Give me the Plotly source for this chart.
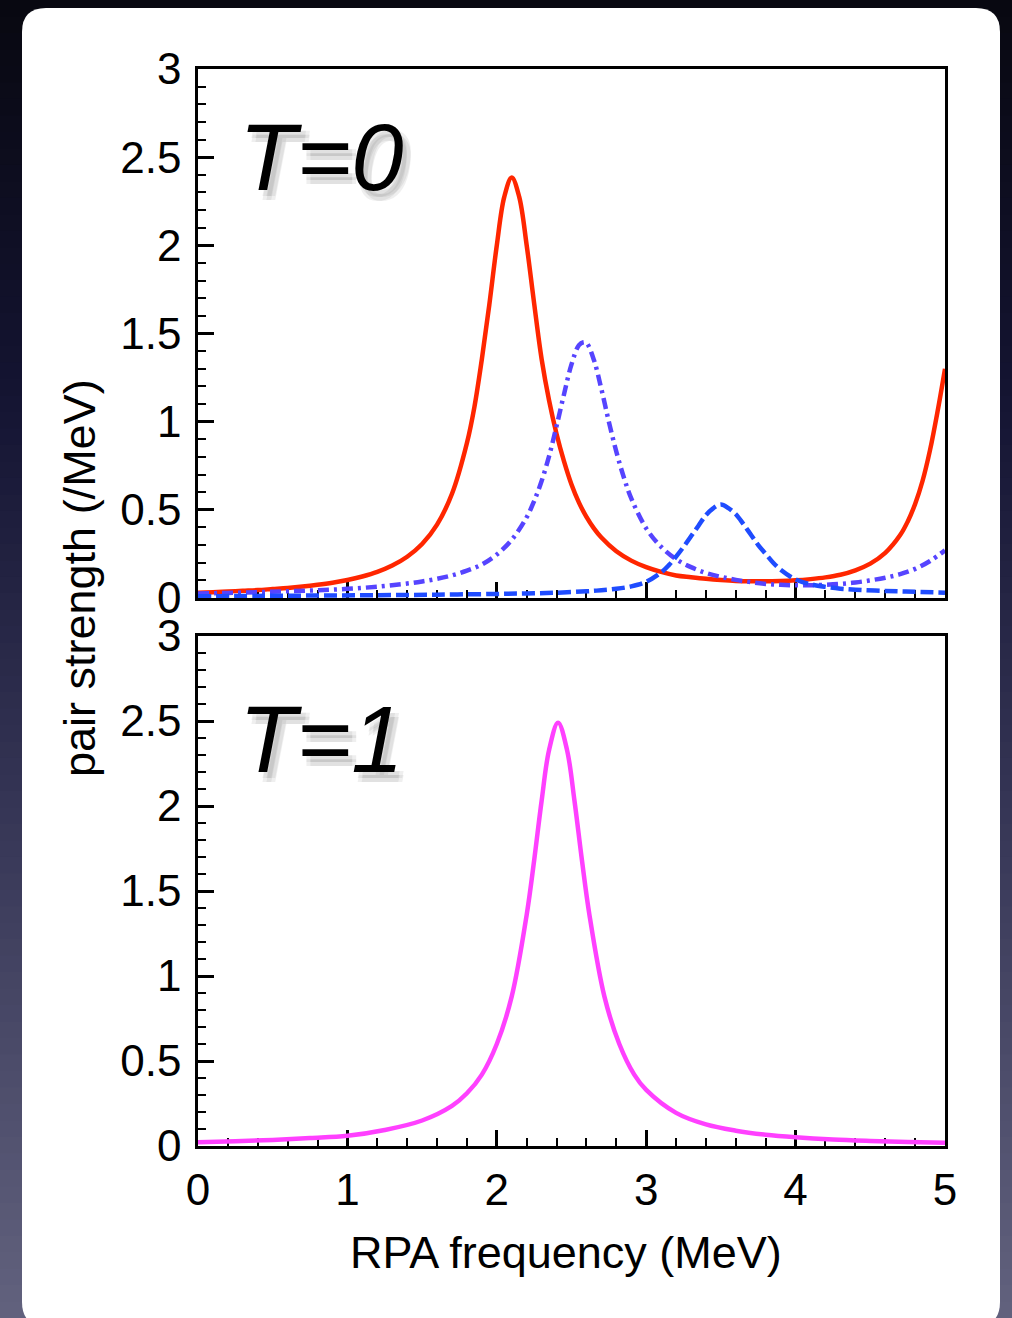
import plotly.graph_objects as go

W, H = 1012, 1318

# ---- T=0 : pair strength functions ----
x_red = [0.0, 0.1, 0.2, 0.3, 0.4, 0.5, 0.6, 0.7, 0.8, 0.9, 1.0, 1.1, 1.2, 1.3, 1.4,
         1.5, 1.6, 1.7, 1.8, 1.85, 1.9, 1.95, 2.0, 2.05, 2.1, 2.15, 2.2, 2.25, 2.3, 2.35,
         2.4, 2.45, 2.5, 2.55, 2.6, 2.65, 2.7, 2.8, 2.9, 3.0, 3.1, 3.2, 3.3, 3.4, 3.5,
         3.6, 3.7, 3.8, 3.9, 4.0, 4.1, 4.2, 4.3, 4.4, 4.5, 4.6, 4.7, 4.75, 4.8, 4.85,
         4.9, 4.95, 5.0]
y_red = [0.030, 0.033, 0.037, 0.041, 0.045, 0.051, 0.057, 0.065, 0.075, 0.087, 0.102, 0.122, 0.148, 0.184, 0.234,
         0.306, 0.416, 0.591, 0.879, 1.083, 1.355, 1.664, 2.0, 2.275, 2.385, 2.275, 2.0, 1.67, 1.355, 1.12,
         0.93, 0.775, 0.644, 0.541, 0.46, 0.395, 0.343, 0.265, 0.212, 0.175, 0.148, 0.128, 0.118, 0.109, 0.102,
         0.097, 0.095, 0.095, 0.096, 0.10, 0.107, 0.117, 0.132, 0.157, 0.195, 0.256, 0.357, 0.433, 0.533, 0.665,
         0.84, 1.057, 1.30]

x_dashdot = [0.0, 0.2, 0.4, 0.6, 0.8, 1.0, 1.2, 1.4, 1.5, 1.6, 1.7, 1.8, 1.9, 2.0, 2.1,
             2.2, 2.25, 2.3, 2.35, 2.4, 2.45, 2.5, 2.55, 2.58, 2.6, 2.65, 2.7, 2.75, 2.8, 2.85,
             2.9, 3.0, 3.1, 3.2, 3.3, 3.4, 3.5, 3.6, 3.7, 3.8, 3.9, 4.0, 4.1, 4.2, 4.3,
             4.4, 4.5, 4.6, 4.7, 4.8, 4.9, 5.0]
y_dashdot = [0.026, 0.029, 0.033, 0.038, 0.044, 0.052, 0.064, 0.082, 0.094, 0.109, 0.128, 0.155, 0.19, 0.247, 0.33,
             0.458, 0.55, 0.663, 0.805, 0.975, 1.156, 1.325, 1.434, 1.45, 1.447, 1.35, 1.185, 1.0, 0.83, 0.685,
             0.565, 0.395, 0.29, 0.22, 0.175, 0.142, 0.12, 0.103, 0.09, 0.08, 0.075, 0.072, 0.072, 0.075, 0.08,
             0.088, 0.10, 0.115, 0.135, 0.165, 0.21, 0.27]

x_dashed = [0.0, 0.4, 0.8, 1.2, 1.6, 2.0, 2.2, 2.4, 2.6, 2.7, 2.8, 2.9, 3.0, 3.1, 3.15,
            3.2, 3.25, 3.3, 3.35, 3.4, 3.45, 3.5, 3.55, 3.6, 3.65, 3.7, 3.75, 3.8, 3.85, 3.9,
            4.0, 4.1, 4.2, 4.3, 4.4, 4.6, 4.8, 5.0]
y_dashed = [0.010, 0.012, 0.014, 0.016, 0.019, 0.023, 0.026, 0.030, 0.038, 0.044, 0.052, 0.066, 0.092, 0.145, 0.185,
            0.235, 0.29, 0.35, 0.41, 0.47, 0.51, 0.53, 0.51, 0.475, 0.42, 0.36, 0.30, 0.25, 0.20, 0.16,
            0.105, 0.078, 0.063, 0.053, 0.047, 0.040, 0.035, 0.030]

# ---- T=1 : pair strength function ----
x_mag = [0, 0.25, 0.5, 0.75, 1.0, 1.25, 1.5, 1.7, 1.8, 1.9, 2.0, 2.1, 2.2, 2.25, 2.3,
         2.35, 2.41, 2.47, 2.52, 2.57, 2.62, 2.72, 2.82, 2.92, 3.0, 3.2, 3.4, 3.6, 3.8, 4.0,
         4.25, 4.5, 4.75, 5.0]
y_mag = [0.022, 0.028, 0.036, 0.047, 0.06, 0.094, 0.15, 0.236, 0.31, 0.42, 0.60, 0.88, 1.36, 1.68, 2.03,
         2.33, 2.49, 2.33, 2.03, 1.68, 1.36, 0.88, 0.60, 0.42, 0.33, 0.195, 0.127, 0.09, 0.066, 0.051,
         0.038, 0.030, 0.024, 0.019]

x_tickvals = [0, 1, 2, 3, 4, 5]
x_ticktext = ["0", "1", "2", "3", "4", "5"]
y_tickvals = [0, 0.5, 1, 1.5, 2, 2.5, 3]
y_ticktext = ["0", "0.5", "1", "1.5", "2", "2.5", "3"]

FONT = "Liberation Sans"


def px_x(p):
    return p / W


def px_y(p):
    return 1 - p / H


fig = go.Figure()

fig.add_trace(go.Scatter(x=x_red, y=y_red, mode="lines", line=dict(color="#ff2600", width=4.5, shape="spline"),
                         xaxis="x", yaxis="y"))
fig.add_trace(go.Scatter(x=x_dashdot, y=y_dashdot, mode="lines",
                         line=dict(color="#5644ff", width=4.5, dash="11px,5px,3px,5px", shape="spline"),
                         xaxis="x", yaxis="y"))
fig.add_trace(go.Scatter(x=x_dashed, y=y_dashed, mode="lines",
                         line=dict(color="#1f4cff", width=4.5, dash="13px,5px", shape="spline"),
                         xaxis="x", yaxis="y"))
fig.add_trace(go.Scatter(x=x_mag, y=y_mag, mode="lines", line=dict(color="#ff40ff", width=4.5, shape="spline"),
                         xaxis="x2", yaxis="y2"))


def xaxis_style(show_labels, anchor):
    return dict(
        domain=[px_x(198), px_x(945)], range=[0, 5], anchor=anchor, automargin=False,
        showgrid=False, zeroline=False, showline=True, linecolor="black", linewidth=2.5, mirror=True,
        ticks="inside", ticklen=16, tickwidth=2.5, tickcolor="black",
        tickmode="array", tickvals=x_tickvals, ticktext=x_ticktext, showticklabels=show_labels,
        minor=dict(ticks="inside", ticklen=8, tickwidth=1.5, tickcolor="black", tickmode="linear", tick0=0, dtick=0.2),
        tickfont=dict(family=FONT, size=44, color="black"), ticklabelstandoff=3,
        layer="below traces", fixedrange=True,
    )


def yaxis_style(top, bottom, anchor):
    return dict(
        domain=[px_y(bottom), px_y(top)], range=[0, 3], anchor=anchor, automargin=False,
        showgrid=False, zeroline=False, showline=True, linecolor="black", linewidth=2.5, mirror=True,
        ticks="inside", ticklen=16, tickwidth=2.5, tickcolor="black",
        tickmode="array", tickvals=y_tickvals, ticktext=y_ticktext,
        minor=dict(ticks="inside", ticklen=8, tickwidth=1.5, tickcolor="black", tickmode="linear", tick0=0, dtick=0.1),
        tickfont=dict(family=FONT, size=44, color="black"), ticklabelstandoff=5,
        layer="below traces", fixedrange=True,
    )


# dark slide background, vertical gradient
stops = [(0.0, (8, 8, 16)), (0.3, (20, 20, 50)), (0.6, (52, 52, 84)), (1.0, (98, 98, 126))]


def grad(t):
    for (t0, c0), (t1, c1) in zip(stops[:-1], stops[1:]):
        if t0 <= t <= t1:
            f = (t - t0) / (t1 - t0)
            return "rgb(%d,%d,%d)" % tuple(round(a + (b - a) * f) for a, b in zip(c0, c1))
    return "rgb(%d,%d,%d)" % stops[-1][1]


shapes = []
n_bands = 80
for i in range(n_bands):
    t = (i + 0.5) / n_bands
    shapes.append(dict(type="rect", xref="paper", yref="paper", x0=0, x1=1,
                       y0=1 - (i + 1) / n_bands - 0.001, y1=1 - i / n_bands,
                       fillcolor=grad(t), line=dict(width=0), layer="below"))

# white rounded panel
L, R, T, B, rad = 22, 1000, 8, 1326, 24
rx, ry = rad / W, rad / H
x0, x1, y0, y1 = px_x(L), px_x(R), px_y(B), px_y(T)
panel = (f"M {x0 + rx},{y1} L {x1 - rx},{y1} Q {x1},{y1} {x1},{y1 - ry} "
         f"L {x1},{y0 + ry} Q {x1},{y0} {x1 - rx},{y0} L {x0 + rx},{y0} Q {x0},{y0} {x0},{y0 + ry} "
         f"L {x0},{y1 - ry} Q {x0},{y1} {x0 + rx},{y1} Z")
shapes.append(dict(type="path", xref="paper", yref="paper", path=panel, fillcolor="white",
                   line=dict(width=0), layer="below"))

annotations = []


def shadow_text(text, xd, yd, xref, yref):
    # soft grey drop shadow from a few faint offset copies
    for dx, dy in ((4, -6), (8, -6), (4, -10), (8, -10)):
        annotations.append(dict(text=text, x=xd, y=yd, xref=xref, yref=yref, showarrow=False,
                                xanchor="left", yanchor="middle", xshift=dx, yshift=dy,
                                font=dict(family=FONT, size=94, color="rgb(90,90,90)"), opacity=0.09))
    annotations.append(dict(text=text, x=xd, y=yd, xref=xref, yref=yref, showarrow=False,
                            xanchor="left", yanchor="middle",
                            font=dict(family=FONT, size=94, color="black")))


shadow_text("<i>T=0</i>", 0.26, 2.5, "x", "y")
shadow_text("<i>T=1</i>", 0.26, 2.39, "x2", "y2")

annotations.append(dict(text="RPA frequency (MeV)", x=px_x(566), y=px_y(1252), xref="paper", yref="paper",
                        showarrow=False, xanchor="center", yanchor="middle",
                        font=dict(family=FONT, size=45, color="black")))
annotations.append(dict(text="pair strength (/MeV)", x=px_x(79), y=px_y(578), xref="paper", yref="paper",
                        showarrow=False, xanchor="center", yanchor="middle", textangle=-90,
                        font=dict(family=FONT, size=45, color="black")))

fig.update_layout(
    width=W, height=H, margin=dict(l=0, r=0, t=0, b=0, pad=0, autoexpand=False),
    paper_bgcolor="rgb(20,20,40)", plot_bgcolor="rgba(0,0,0,0)",
    showlegend=False,
    xaxis=xaxis_style(False, "y"),
    yaxis=yaxis_style(69, 598, "x"),
    xaxis2=xaxis_style(True, "y2"),
    yaxis2=yaxis_style(636, 1146, "x2"),
    shapes=shapes, annotations=annotations,
)

fig.write_html("out.html", config={"displayModeBar": False})
